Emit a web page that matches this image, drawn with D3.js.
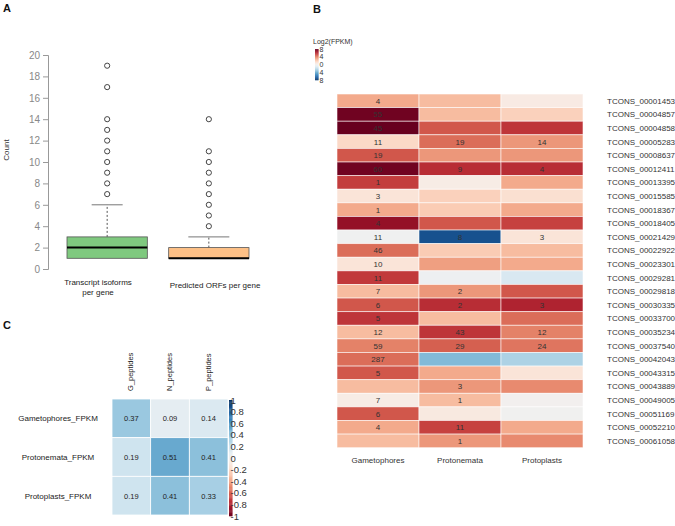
<!DOCTYPE html>
<html><head><meta charset="utf-8">
<script src="https://cdn.jsdelivr.net/npm/d3@7"></script>
<style>body{margin:0;background:#fff;font-family:Arial,"Liberation Sans",sans-serif}</style>
</head><body><svg id="c" width="675" height="526"></svg>
<script>
// ---------- Panel A data ----------
const boxCategories = ["Transcript isoforms per gene", "Predicted ORFs per gene"];
const boxQ1 = [1, 1];
const boxMedian = [2, 1];
const boxQ3 = [3, 2];
const boxWhiskerLow = [1, 1];
const boxWhiskerHigh = [6, 3];
const boxOutliers = [[7,8,9,10,11,12,13,14,17,19],[4,5,6,7,8,9,10,11,14]];
const countTicks = [0,2,4,6,8,10,12,14,16,18,20];

// ---------- Panel B data ----------
const hmColumns = ["Gametophores", "Protonemata", "Protoplasts"];
const hmRows = ["TCONS_00001453","TCONS_00004857","TCONS_00004858","TCONS_00005283","TCONS_00008637","TCONS_00012411","TCONS_00013395","TCONS_00015585","TCONS_00018367","TCONS_00018405","TCONS_00021429","TCONS_00022922","TCONS_00023301","TCONS_00029281","TCONS_00029818","TCONS_00030335","TCONS_00033700","TCONS_00035234","TCONS_00037540","TCONS_00042043","TCONS_00043315","TCONS_00043889","TCONS_00049005","TCONS_00051169","TCONS_00052210","TCONS_00061058"];
const log2Gametophores = [3,7.8,8.3,1.5,5,7.8,5.6,1,3,7,-0.2,4.5,1,5.7,2.5,5,5.8,2.5,4,4.5,5,2.5,0.5,5,3,2.5];
const log2Protonemata  = [2.5,2.5,5,4.5,3.5,6,0.5,1.8,2,5,-7,2,3.3,-0.3,3.5,6,2.5,5.8,4.8,-3.5,3,3.5,2.5,0.7,5.5,3.5];
const log2Protoplasts  = [0.6,1.8,5.8,3.5,3.5,6,3,1.2,3,5.5,1,2.5,3,-1.2,5,6.3,4.5,4,4.3,-2.5,1,3.8,0,-0.1,3,3.8];
const pepGametophores = ["4","55","45","11","19","60","1","3","1","4","11","46","10","11","7","6","5","12","59","287","5","","7","6","4",""];
const pepProtonemata  = ["","","","19","","9","","","","","8","","","","2","2","","43","29","","","3","1","","11","1"];
const pepProtoplasts  = ["","","","14","","4","","","","","3","","","","","3","","12","24","","","","","","",""];
const log2LegendTicks = [8,4,0,-4,-8];
const log2LegendLabels = ["8","4","0","4","8"];

// ---------- Panel C data ----------
const corrRows = ["Gametophores_FPKM","Protonemata_FPKM","Protoplasts_FPKM"];
const corrCols = ["G_peptides","N_peptides","P_peptides"];
const corrGametophores = [0.37,0.09,0.14];
const corrProtonemata = [0.19,0.51,0.41];
const corrProtoplasts = [0.19,0.41,0.33];
const corrTicks = [1,0.8,0.6,0.4,0.2,0,-0.2,-0.4,-0.6,-0.8,-1];

const svg = d3.select("#c");
const F = "Arial, 'Liberation Sans', sans-serif";

function letter(t,x,y){svg.append("text").attr("x",x).attr("y",y).text(t).attr("font-family",F).attr("font-weight","bold").attr("font-size",11).attr("fill","#111");}
letter("A",3,12); letter("B",313,13); letter("C",3,329);

// ================= Panel A =================
const gA = svg.append("g");
const yA = d3.scaleLinear().domain([0,20]).range([269,55]);
const xA = d3.scaleBand().domain(boxCategories).range([67,249]).paddingInner(0.21).paddingOuter(0);
const axA = gA.append("g").attr("transform","translate(48,0)")
  .call(d3.axisLeft(yA).tickValues(countTicks).tickSize(5).tickPadding(3));
axA.select(".domain").attr("stroke","#999");
axA.selectAll(".tick line").attr("stroke","#999");
axA.selectAll(".tick text").attr("font-family",F).attr("font-size",10).attr("fill","#888");
gA.append("text").attr("transform","translate(9,150) rotate(-90)").attr("text-anchor","middle")
  .attr("font-family",F).attr("font-size",8).attr("fill","#333").text("Count");
const boxFill = ["#7fc97f","#fdc086"];
const capW = [31,41];
boxCategories.forEach((c,i)=>{
  const x0 = xA(c), bw = xA.bandwidth(), cx = x0+bw/2;
  gA.append("line").attr("x1",cx).attr("x2",cx).attr("y1",yA(boxQ3[i])).attr("y2",yA(boxWhiskerHigh[i]))
    .attr("stroke","#555").attr("stroke-dasharray","2,2");
  gA.append("line").attr("x1",cx-capW[i]/2).attr("x2",cx+capW[i]/2).attr("y1",yA(boxWhiskerHigh[i])).attr("y2",yA(boxWhiskerHigh[i]))
    .attr("stroke","#777");
  gA.append("rect").attr("x",x0).attr("y",yA(boxQ3[i])).attr("width",bw).attr("height",yA(boxQ1[i])-yA(boxQ3[i]))
    .attr("fill",boxFill[i]).attr("stroke","#555").attr("stroke-width",0.8);
  gA.append("line").attr("x1",x0).attr("x2",x0+bw).attr("y1",yA(boxMedian[i])).attr("y2",yA(boxMedian[i]))
    .attr("stroke","#000").attr("stroke-width",2);
  boxOutliers[i].forEach(v=>{
    gA.append("circle").attr("cx",cx).attr("cy",yA(v)).attr("r",2.6).attr("fill","none").attr("stroke","#444").attr("stroke-width",1);
  });
});
const lab1 = gA.append("text").attr("text-anchor","middle").attr("font-family",F).attr("font-size",8).attr("fill","#222");
lab1.append("tspan").attr("x",98).attr("y",285).text("Transcript isoforms");
lab1.append("tspan").attr("x",98).attr("y",295).text("per gene");
gA.append("text").attr("x",215).attr("y",288).attr("text-anchor","middle").attr("font-family",F).attr("font-size",8).attr("fill","#222").text("Predicted ORFs per gene");

// ================= Panel B =================
const gB = svg.append("g");
const colB = d3.scaleSequential(d3.interpolateRdBu).domain([8,-8]);
const xB = d3.scaleBand().domain(hmColumns).range([337,583]);
const yB = d3.scaleBand().domain(hmRows).range([94,447.7]);
const hmVals = [log2Gametophores, log2Protonemata, log2Protoplasts];
const hmLabs = [pepGametophores, pepProtonemata, pepProtoplasts];
hmColumns.forEach((c,j)=>{
  hmRows.forEach((r,i)=>{
    gB.append("rect").attr("x",xB(c)).attr("y",yB(r)).attr("width",xB.bandwidth()).attr("height",yB.bandwidth())
      .attr("fill",colB(hmVals[j][i])).attr("stroke","#fff").attr("stroke-opacity",0.7).attr("stroke-width",0.8);
    if(hmLabs[j][i]) gB.append("text").attr("x",xB(c)+xB.bandwidth()/2).attr("y",yB(r)+yB.bandwidth()/2+3)
      .attr("text-anchor","middle").attr("font-family",F).attr("font-size",8).attr("fill","#333").text(hmLabs[j][i]);
  });
  gB.append("text").attr("x",xB(c)+xB.bandwidth()/2).attr("y",463).attr("text-anchor","middle")
    .attr("font-family",F).attr("font-size",8).attr("fill","#333").text(c);
});
hmRows.forEach(r=>{
  gB.append("text").attr("x",607).attr("y",yB(r)+yB.bandwidth()/2+3).attr("font-family",F).attr("font-size",8).attr("fill","#333").text(r);
});
// legend
gB.append("text").attr("x",313).attr("y",44).attr("font-family",F).attr("font-size",7).attr("fill","#333").text("Log2(FPKM)");
const lgY = d3.scaleLinear().domain([8,-8]).range([49,80]);
d3.range(8,-8,-0.25).forEach(v=>{
  gB.append("rect").attr("x",315).attr("y",lgY(v)).attr("width",3.5).attr("height",lgY(v-0.25)-lgY(v)+0.3).attr("fill",colB(v));
});
log2LegendTicks.forEach((v,k)=>{
  gB.append("text").attr("x",319.5).attr("y",lgY(v)+2.5).attr("font-family",F).attr("font-size",7).attr("fill","#333").text(log2LegendLabels[k]);
});

// ================= Panel C =================
const gC = svg.append("g");
const colC = v => d3.interpolateRdBu((v+1)/2);
const xC = d3.scaleBand().domain(corrCols).range([112,228]);
const yC = d3.scaleBand().domain(corrRows).range([399,515]);
const corrVals = [corrGametophores, corrProtonemata, corrProtoplasts];
corrRows.forEach((r,i)=>{
  corrCols.forEach((c,j)=>{
    gC.append("rect").attr("x",xC(c)).attr("y",yC(r)).attr("width",xC.bandwidth()).attr("height",yC.bandwidth())
      .attr("fill",colC(corrVals[i][j])).attr("stroke","#fff").attr("stroke-width",0.8);
    gC.append("text").attr("x",xC(c)+xC.bandwidth()/2).attr("y",yC(r)+yC.bandwidth()/2+3).attr("text-anchor","middle")
      .attr("font-family",F).attr("font-size",7.5).attr("fill","#222").text(corrVals[i][j].toFixed(2));
  });
  gC.append("text").attr("x",58).attr("y",yC(r)+yC.bandwidth()/2+3).attr("text-anchor","middle")
    .attr("font-family",F).attr("font-size",8).attr("fill","#222").text(r);
});
corrCols.forEach(c=>{
  gC.append("text").attr("transform",`translate(${xC(c)+xC.bandwidth()/2+2},391) rotate(-90)`)
    .attr("font-family",F).attr("font-size",7.5).attr("fill","#222").text(c);
});
const cbY = d3.scaleLinear().domain([1,-1]).range([400,516]);
d3.range(1,-1,-0.02).forEach(v=>{
  gC.append("rect").attr("x",229).attr("y",cbY(v)).attr("width",3.5).attr("height",cbY(v-0.02)-cbY(v)+0.3).attr("fill",colC(v));
});
corrTicks.forEach(v=>{
  gC.append("text").attr("x",230.5).attr("y",cbY(v)+3.5).attr("font-family",F).attr("font-size",9.5).attr("fill","#333")
    .text(v===0?"0":(v<0?"-":"")+(Math.abs(v)===1?"1":String(Math.abs(v))));
});
</script></body></html>
